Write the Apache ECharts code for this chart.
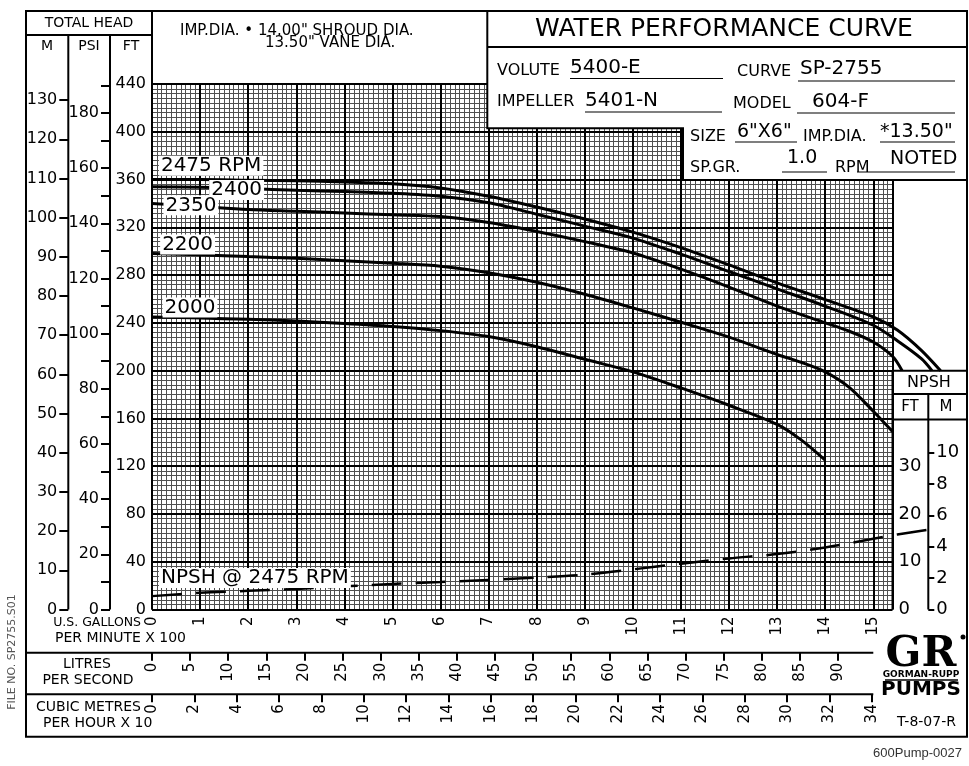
<!DOCTYPE html>
<html><head><meta charset="utf-8">
<script src="https://cdn.jsdelivr.net/npm/echarts@6/dist/echarts.min.js"></script>
<style>html,body{margin:0;padding:0;background:#fff}#c{width:969px;height:766px}</style>
</head><body><div id="c"></div>
<script>
// ---------------- DATA ----------------
const curveNames = ['2475 RPM', '2400', '2350', '2200', '2000'];
const gpm2475  = [0,100,200,300,400,500,600,700,800,900,1000,1100,1200,1300,1400,1500,1550,1600,1640];
const head2475 = [360,360,359.5,359,358,356.5,353,346,337,327,316,303,288.5,273.5,259.5,245,234,217,200];
const gpm2400  = [0,100,200,300,400,500,600,700,800,900,1000,1100,1200,1300,1400,1500,1550,1600,1622];
const head2400 = [354,353.5,352.5,351,350,348.5,346,340.5,331,321,311,297.5,283,268.5,254,238,225,210,200];
const gpm2350  = [0,100,200,300,400,500,600,700,800,900,1000,1100,1200,1300,1400,1450,1500,1540,1560];
const head2350 = [340,337.5,335,333.5,332,330.5,329,324,316.5,308,298.5,285,270,254,240,233,224,212,200];
const gpm2200  = [0,100,200,300,400,500,600,700,800,900,1000,1100,1200,1300,1350,1400,1450,1500,1540];
const head2200 = [298,297,295.5,294,292,290,287.5,282,274,264,252.5,240.5,228,213.5,207,199,186,166,149];
const gpm2000  = [0,100,200,300,400,500,600,700,800,900,1000,1100,1200,1300,1350,1400];
const head2000 = [245,244,243,241.5,239.5,237,233.5,228.5,220,209.5,199,185.5,171,155,142,125];
const gpmNpsh  = [0,100,200,300,400,500,600,700,800,900,1000,1100,1200,1300,1400,1500,1550,1620];
const npshFt   = [2.8,3.5,3.9,4.3,4.85,5.35,5.75,6.2,6.7,7.3,8.4,9.6,10.7,11.6,13.0,14.8,15.7,16.8];

// tick labels
const gpmTicks   = [0,100,200,300,400,500,600,700,800,900,1000,1100,1200,1300,1400,1500];
const ftTicks    = [0,40,80,120,160,200,240,280,320,360,400,440];
const mTicks     = [0,10,20,30,40,50,60,70,80,90,100,110,120,130];
const psiTicks   = [0,10,20,30,40,50,60,70,80,90,100,110,120,130,140,150,160,170,180,190];
const psiLabels  = [0,20,40,60,80,100,120,140,160,180];
const lpsTicks   = [0,5,10,15,20,25,30,35,40,45,50,55,60,65,70,75,80,85,90];
const m3hTicks   = [0,2,4,6,8,10,12,14,16,18,20,22,24,26,28,30,32,34];
const npshFtLabels = [0,10,20,30];
const npshMTicks = [0,2,4,6,8,10];

// ---------------- LAYOUT ----------------
const FONT = '"DejaVu Sans", sans-serif';
const X0 = 152, YTOP = 84, Y0 = 609.5;
const GPM_MAX = 1540, FT_MAX = 440;
const PXG = 740.5 / GPM_MAX;
const FT_PER_M = 3.28084, FT_PER_PSI = 2.31, GPM_PER_LPS = 15.850323, GPM_PER_M3H = 4.402868;

const labelAt = [[123, 371.5], [176, 351.3], [81, 338.4], [74, 305.6], [79, 252.9]];
const npshLabelAt = [214, 6.6];

const pair = (xs, ys) => xs.map((x, i) => [x, ys[i]]);
const curves = [[gpm2475, head2475], [gpm2400, head2400], [gpm2350, head2350], [gpm2200, head2200], [gpm2000, head2000]];

const series = curves.map((c, i) => ({
  type: 'line', name: curveNames[i], xAxisIndex: 2, yAxisIndex: 6,
  data: pair(c[0], c[1]), showSymbol: false, smooth: 0.3,
  lineStyle: {color: '#000', width: 3}, silent: true,
  markPoint: {
    symbol: 'rect', symbolSize: 1, silent: true, itemStyle: {color: 'rgba(0,0,0,0)'},
    label: {show: true, position: 'inside', formatter: '{b}', color: '#000', fontSize: 20,
            fontFamily: FONT, backgroundColor: '#fff', padding: [0, 2, 0, 2]},
    data: [{name: curveNames[i], coord: labelAt[i]}]
  }
}));
series.push({
  type: 'line', name: 'NPSH', xAxisIndex: 2, yAxisIndex: 7,
  data: pair(gpmNpsh, npshFt), showSymbol: false, smooth: 0.3,
  lineStyle: {color: '#000', width: 2.5, type: [30, 14]}, silent: true,
  markPoint: {
    symbol: 'rect', symbolSize: 1, silent: true, itemStyle: {color: 'rgba(0,0,0,0)'},
    label: {show: true, position: 'inside', formatter: '{b}', color: '#000', fontSize: 20,
            fontFamily: FONT, backgroundColor: '#fff', padding: [0, 2, 0, 2]},
    data: [{name: 'NPSH @ 2475 RPM', coord: npshLabelAt}]
  }
});

// graphic helpers
const G = [];
const ln = (x1, y1, x2, y2, w) => G.push({type: 'line', z: 100, silent: true,
  shape: {x1, y1, x2, y2}, style: {stroke: '#000', lineWidth: w || 2}});
const tx = (text, x, y, size, align, opts) => G.push(Object.assign({type: 'text', z: 101, silent: true,
  style: {text, x, y, font: (opts && opts.font) || (size + 'px ' + FONT), fill: (opts && opts.fill) || '#000',
          align: align || 'left', textAlign: align || 'left', verticalAlign: 'middle', textVerticalAlign: 'middle'}},
  (opts && opts.extra) || {}));

const R = 967, T = 11, B = 736.7, L = 26;
G.push({type: 'rect', z: 100, silent: true, shape: {x: L, y: T, width: R - L, height: B - T},
  style: {fill: 'none', stroke: '#000', lineWidth: 2}});
G.push({type: 'polygon', z: 100, silent: true,
  shape: {points: [[487.3, T], [R, T], [R, 180], [683, 180], [683, 128.3], [487.3, 128.3]]},
  style: {fill: '#fff', stroke: '#000', lineWidth: 2}});
ln(487.3, 47, R, 47);
// left header columns
ln(L, 35, X0, 35);
ln(68.3, 35, 68.3, Y0);
ln(110, 35, 110, Y0);
ln(X0, T, X0, Y0);
// bottom flow scales
ln(L, 652.7, 873.3, 652.7);
ln(L, 694.3, 873.3, 694.3);
// NPSH box
ln(892.5, 370.7, R, 370.7);
ln(892.5, 394, R, 394);
ln(892.5, 419.5, R, 419.5);
ln(892.5, 370.7, 892.5, Y0);
ln(928.3, 394, 928.3, Y0);

// texts
tx('TOTAL HEAD', 89, 23, 14, 'center');
tx('M', 47, 46, 14, 'center');
tx('PSI', 89, 46, 14, 'center');
tx('FT', 131, 46, 14, 'center');
tx('IMP.DIA. \u2022 14.00" SHROUD DIA.', 180, 31.5, 15, 'left');
tx('13.50" VANE DIA.', 265, 43.5, 15, 'left');
tx('WATER PERFORMANCE CURVE', 724, 29, 25, 'center');
tx('VOLUTE', 497, 71, 16); tx('5400-E', 570, 67.5, 20);
tx('CURVE', 737, 72, 16); tx('SP-2755', 800, 69, 20);
tx('IMPELLER', 497, 101.7, 16); tx('5401-N', 585, 100.8, 20);
tx('MODEL', 733, 104, 16); tx('604-F', 812, 101.7, 20);
tx('SIZE', 690, 136.7, 16); tx('6"X6"', 737, 132.5, 19);
tx('IMP.DIA.', 803, 136.7, 16); tx('*13.50"', 880, 132, 19);
tx('SP.GR.', 690, 167.5, 16); tx('1.0', 787, 158.5, 19);
tx('RPM', 835, 167.5, 16); tx('NOTED', 890, 159.2, 19);
ln(570, 78.5, 723, 78.5, 1.2); ln(798, 81, 955, 81, 1.2);
ln(585, 112, 722, 112, 1.2); ln(797, 113, 955, 113, 1.2);
ln(735, 142, 797, 142, 1.2); ln(880, 142, 955, 142, 1.2);
ln(782, 172, 827, 172, 1.2); ln(857, 172, 955, 172, 1.2);
tx('NPSH', 929, 383, 16, 'center');
tx('FT', 910, 407, 15, 'center');
tx('M', 946, 407, 15, 'center');
tx('U.S. GALLONS', 141, 623, 12.5, 'right');
tx('PER MINUTE X 100', 55, 638, 14, 'left');
tx('LITRES', 87, 664, 14, 'center');
tx('PER SECOND', 88, 680, 14, 'center');
tx('CUBIC METRES', 36, 707, 14, 'left');
tx('PER HOUR X 10', 43, 723, 14, 'left');
tx('GR', 921, 655, 0, 'center', {font: 'bold 42px "DejaVu Serif", serif'});
tx('GORMAN-RUPP', 921, 675, 0, 'center', {font: 'bold 9px ' + FONT});
ln(885, 680, 958, 680, 1.5);
tx('PUMPS', 921, 690, 0, 'center', {font: 'bold 20px ' + FONT});
G.push({type: 'circle', z: 100, silent: true, shape: {cx: 963, cy: 637, r: 2.5}, style: {fill: '#000'}});
tx('T-8-07-R', 926.5, 722, 14, 'center');
tx('600Pump-0027', 962, 753, 0, 'right', {font: '13px "Liberation Sans", Arial, sans-serif', fill: '#333'});
tx('FILE NO. SP2755.S01', 0, 0, 0, 'center', {font: '11px ' + FONT, fill: '#555',
  extra: {x: 12, y: 652, rotation: Math.PI / 2}});

const hidden = {show: false};
const noLine = {show: false};
const option = {
  animation: false,
  backgroundColor: '#fff',
  textStyle: {fontFamily: FONT, color: '#000'},
  grid: [
    {left: X0, top: YTOP, width: GPM_MAX * PXG, height: Y0 - YTOP, outerBoundsMode: 'none', containLabel: false},
    {left: X0, top: YTOP, width: 1700 * PXG, height: Y0 - YTOP, outerBoundsMode: 'none', containLabel: false},
    {left: X0, top: 640, width: 1500 * PXG, height: 12.7, outerBoundsMode: 'none', containLabel: false},
    {left: X0, top: 680, width: 1500 * PXG, height: 14.3, outerBoundsMode: 'none', containLabel: false}
  ],
  xAxis: [
    {gridIndex: 0, type: 'value', min: 0, max: GPM_MAX, interval: 10, z: 0,
     axisLine: noLine, axisTick: hidden, axisLabel: hidden,
     splitLine: {show: true, lineStyle: {color: '#505050', width: 1}}},
    {gridIndex: 0, type: 'value', min: 0, max: GPM_MAX, interval: 100, z: 1, position: 'bottom',
     axisLine: noLine, axisTick: {show: false},
     axisLabel: {show: true, customValues: gpmTicks, rotate: 90, margin: 7, fontSize: 15, color: '#000',
                 hideOverlap: false, formatter: v => String(Math.round(v / 100))},
     splitLine: {show: true, lineStyle: {color: '#000', width: 2}}},
    {gridIndex: 1, type: 'value', min: 0, max: 1700, show: false},
    {gridIndex: 2, type: 'value', min: 0, max: 1500 / GPM_PER_LPS, position: 'bottom',
     axisLine: noLine, splitLine: hidden,
     axisTick: {show: true, customValues: lpsTicks, length: 8, lineStyle: {color: '#000', width: 2}},
     axisLabel: {show: true, customValues: lpsTicks, rotate: 90, margin: 10, fontSize: 15, color: '#000', hideOverlap: false}},
    {gridIndex: 3, type: 'value', min: 0, max: 1500 / GPM_PER_M3H / 10, position: 'bottom',
     axisLine: noLine, splitLine: hidden,
     axisTick: {show: true, customValues: m3hTicks, length: 8, lineStyle: {color: '#000', width: 2}},
     axisLabel: {show: true, customValues: m3hTicks, rotate: 90, margin: 10, fontSize: 15, color: '#000', hideOverlap: false}}
  ],
  yAxis: [
    {gridIndex: 0, type: 'value', min: 0, max: FT_MAX, interval: 4, z: 0, position: 'left',
     axisLine: noLine, axisTick: hidden, axisLabel: hidden,
     splitLine: {show: true, lineStyle: {color: '#505050', width: 1}}},
    {gridIndex: 0, type: 'value', min: 0, max: FT_MAX, interval: 40, z: 1, position: 'left', offset: 0,
     axisLine: noLine, axisTick: hidden,
     axisLabel: {show: true, customValues: ftTicks, margin: 6, fontSize: 16, color: '#000', hideOverlap: false},
     splitLine: {show: true, lineStyle: {color: '#000', width: 2}}},
    {gridIndex: 0, type: 'value', min: 0, max: FT_MAX / FT_PER_M, position: 'left', offset: X0 - 68.3,
     axisLine: noLine, splitLine: hidden,
     axisTick: {show: true, customValues: mTicks, length: 9, lineStyle: {color: '#000', width: 2}},
     axisLabel: {show: true, customValues: mTicks, margin: 11, fontSize: 16, color: '#000', hideOverlap: false}},
    {gridIndex: 0, type: 'value', min: 0, max: FT_MAX / FT_PER_PSI, position: 'left', offset: X0 - 110,
     axisLine: noLine, splitLine: hidden,
     axisTick: {show: true, customValues: psiTicks, length: 9, lineStyle: {color: '#000', width: 2}},
     axisLabel: {show: true, customValues: psiLabels, margin: 11, fontSize: 16, color: '#000', hideOverlap: false}},
    {gridIndex: 0, type: 'value', min: 0, max: FT_MAX / 4, position: 'right', offset: 0,
     axisLine: noLine, axisTick: hidden, splitLine: hidden,
     axisLabel: {show: true, customValues: npshFtLabels, margin: 6, fontSize: 18, color: '#000', hideOverlap: false}},
    {gridIndex: 0, type: 'value', min: 0, max: FT_MAX / 4 / FT_PER_M, position: 'right', offset: 928.3 - (X0 + GPM_MAX * PXG),
     axisLine: noLine, splitLine: hidden,
     axisTick: {show: true, customValues: npshMTicks, length: 6, lineStyle: {color: '#000', width: 2}},
     axisLabel: {show: true, customValues: npshMTicks, margin: 8, fontSize: 18, color: '#000', hideOverlap: false}},
    {gridIndex: 1, type: 'value', min: 0, max: FT_MAX, show: false},
    {gridIndex: 1, type: 'value', min: 0, max: FT_MAX / 4, show: false},
    {gridIndex: 2, type: 'value', show: false},
    {gridIndex: 3, type: 'value', show: false}
  ],
  series: series,
  graphic: {elements: G}
};
const chart = echarts.init(document.getElementById('c'), null, {renderer: 'canvas', width: 969, height: 766});
chart.setOption(option);
</script></body></html>
